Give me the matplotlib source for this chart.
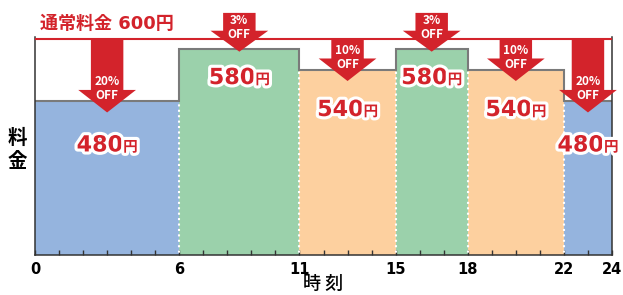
import matplotlib
matplotlib.use('Agg')
import matplotlib.pyplot as plt
import matplotlib.patheffects as pe

# Data
start_hours = [0, 6, 11, 15, 18, 22]
end_hours = [6, 11, 15, 18, 22, 24]
prices = [480, 580, 540, 580, 540, 480]
discounts = ['20%', '3%', '10%', '3%', '10%', '20%']
normal_price = 600
tick_hours = [0, 6, 11, 15, 18, 22, 24]

colors = ['#95b4de', '#9bd1ab', '#fdd09f', '#9bd1ab', '#fdd09f', '#95b4de']
red = '#d3232b'
jp = 'Noto Sans CJK JP'
label_dy = [-50, -35, -46, -35, -46, -50]  # label baseline offsets (px)

fig = plt.figure(figsize=(6.23, 2.95), dpi=100)
ax = fig.add_axes([35 / 623, 40 / 295, 577 / 623, 218 / 295])

widths = [e - s for s, e in zip(start_hours, end_hours)]
mids = [(s + e) / 2 for s, e in zip(start_hours, end_hours)]

ax.bar(start_hours, prices, width=widths, align='edge', color=colors,
       linewidth=0, zorder=1)
ax.stairs(prices, start_hours + [end_hours[-1]], baseline=None,
          color='#7a7a7a', linewidth=1.5, zorder=2)

# white dotted separators
for i, x in enumerate(start_hours[1:], start=1):
    ax.vlines(x, 0, min(prices[i - 1], prices[i]), colors='white',
              linewidth=1.5, linestyles=(0, (1, 1.6)), zorder=3)

ax.axhline(normal_price, color=red, linewidth=1.5, zorder=3)

# discount arrows
for x, p, d in zip(mids, prices, discounts):
    if normal_price - p < 30:
        top, tip, hl = normal_price + 49, p - 5, 40
    else:
        top, tip, hl = normal_price, p - 21, 43
    ax.arrow(x, top, 0, tip - top, width=1.35, head_width=2.4,
             head_length=hl, length_includes_head=True, color=red,
             linewidth=0, clip_on=False, zorder=4)
    ax.annotate(f'{d}\nOFF', (x, tip), xytext=(0, 24),
                textcoords='offset pixels', ha='center', va='center',
                color='white', fontsize=8.5, fontweight='bold', family=jp,
                linespacing=1.1, annotation_clip=False, zorder=5)

# price labels
outline = [pe.withStroke(linewidth=4.5, foreground='white')]
for x, p, dy in zip(mids, prices, label_dy):
    ax.annotate(str(p), (x, p), xytext=(16, dy), textcoords='offset pixels',
                ha='right', va='baseline', fontsize=16, fontweight='bold',
                color=red, family='DejaVu Sans', path_effects=outline,
                annotation_clip=False, zorder=6)
    ax.annotate('円', (x, p), xytext=(16, dy), textcoords='offset pixels',
                ha='left', va='baseline', fontsize=10.5, fontweight='bold',
                color=red, family=jp, path_effects=outline,
                annotation_clip=False, zorder=6)

ax.set_xlim(0, 24)
ax.set_ylim(187, 603)
ax.set_xticks(tick_hours)
ax.set_xticklabels([str(h) for h in tick_hours], fontsize=10.5,
                   fontweight='bold', family='DejaVu Sans')
ax.set_xticks(range(25), minor=True)
ax.tick_params(axis='x', which='both', direction='in', length=3.6,
               width=1, color='#333333', pad=5)
ax.set_yticks([])
ax.spines['top'].set_visible(False)
for s in ['left', 'right', 'bottom']:
    ax.spines[s].set_color('#333333')
    ax.spines[s].set_linewidth(1.1)

fig.text(40 / 623, 1 - 24 / 295, '通常料金 600円', color=red, fontsize=13,
         fontweight='bold', family=['DejaVu Sans', jp], ha='left', va='center')
fig.text(17 / 623, 1 - 150 / 295, '料\n金', fontsize=14, family=jp,
         fontweight='bold', ha='center', va='center', linespacing=1.3)
fig.text(323 / 623, 1 - 284 / 295, '時 刻', fontsize=13, family=jp,
         fontweight='medium', ha='center', va='center')

fig.savefig('out.png', dpi=100)
